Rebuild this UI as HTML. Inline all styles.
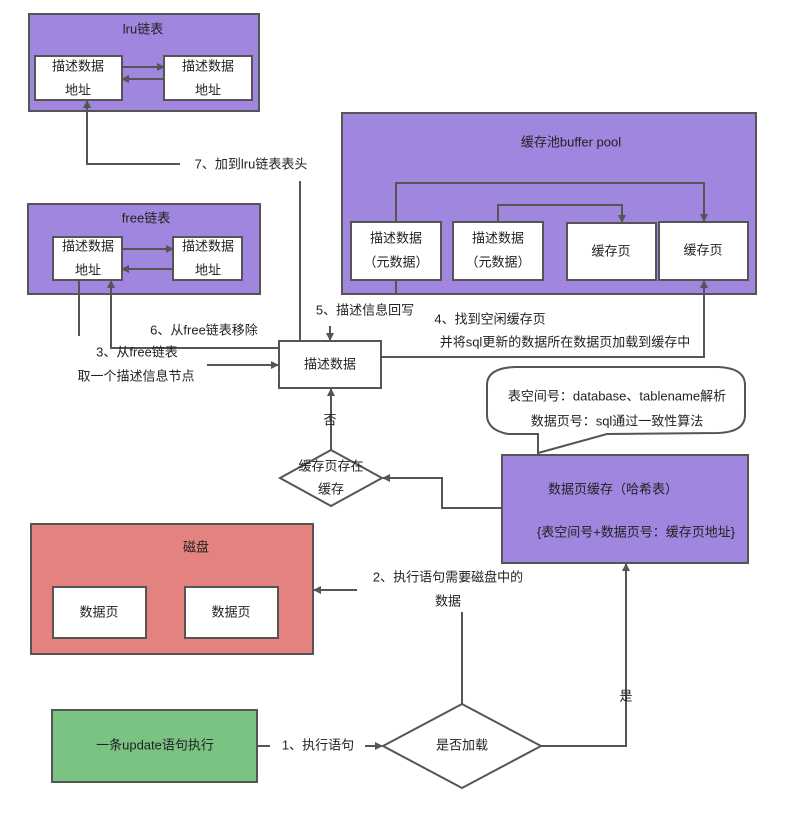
<!DOCTYPE html>
<html><head><meta charset="utf-8"><style>
body{margin:0;background:#fff}
svg text{font-family:"Liberation Sans","Noto Sans CJK SC",sans-serif;font-size:13px;fill:#222;text-anchor:middle;dominant-baseline:middle}
</style></head><body>
<svg width="787" height="824" xmlns="http://www.w3.org/2000/svg">
<defs><marker id="a" markerWidth="8" markerHeight="8" refX="7" refY="4" orient="auto" markerUnits="userSpaceOnUse"><path d="M0,0 L8,4 L0,8 z" fill="#555"/></marker></defs>
<g stroke="#555" stroke-width="2">
<rect x="29" y="14" width="230" height="97" fill="#a086df"/>
<rect x="35" y="56" width="87" height="44" fill="#fff"/>
<rect x="164" y="56" width="88" height="44" fill="#fff"/>
<rect x="28" y="204" width="232" height="90" fill="#a086df"/>
<rect x="53" y="237" width="69" height="43" fill="#fff"/>
<rect x="173" y="237" width="69" height="43" fill="#fff"/>
<rect x="342" y="113" width="414" height="181" fill="#a086df"/>
<rect x="351" y="222" width="90" height="58" fill="#fff"/>
<rect x="453" y="222" width="90" height="58" fill="#fff"/>
<rect x="567" y="223" width="89" height="57" fill="#fff"/>
<rect x="659" y="222" width="89" height="58" fill="#fff"/>
<rect x="279" y="341" width="102" height="47" fill="#fff"/>
<rect x="502" y="455" width="246" height="108" fill="#a086df"/>
<rect x="31" y="524" width="282" height="130" fill="#e4827f"/>
<rect x="53" y="587" width="93" height="51" fill="#fff"/>
<rect x="185" y="587" width="93" height="51" fill="#fff"/>
<rect x="52" y="710" width="205" height="72" fill="#7bc383"/>
<path d="M280,478 L331,450 L382,478 L331,506 Z" fill="#fff"/>
<path d="M383,746 L462,704 L541,746 L462,788 Z" fill="#fff"/>
<path d="M538,453 L538,434 L508,434 Q487,430 487,415 L487,385 Q487,368 515,367 L718,367 Q745,368 745,385 L745,415 Q745,432 718,433 L607,434 Z" fill="#fff"/>
<g fill="none">
<path d="M122,67 L164,67" marker-end="url(#a)"/>
<path d="M164,79 L122,79" marker-end="url(#a)"/>
<path d="M122,249 L173,249" marker-end="url(#a)"/>
<path d="M173,269 L122,269" marker-end="url(#a)"/>
<path d="M180,164 L87,164 L87,101" marker-end="url(#a)"/>
<path d="M300,181 L300,341"/>
<path d="M79,280 L79,336"/>
<path d="M279,348 L111,348 L111,281" marker-end="url(#a)"/>
<path d="M207,365 L278,365" marker-end="url(#a)"/>
<path d="M330,326 L330,340" marker-end="url(#a)"/>
<path d="M396,222 L396,183 L704,183 L704,221" marker-end="url(#a)"/>
<path d="M498,222 L498,205 L622,205 L622,222" marker-end="url(#a)"/>
<path d="M396,280 L396,294"/>
<path d="M381,357 L704,357 L704,281" marker-end="url(#a)"/>
<path d="M502,508 L442,508 L442,478 L383,478" marker-end="url(#a)"/>
<path d="M331,450 L331,389" marker-end="url(#a)"/>
<path d="M357,590 L314,590" marker-end="url(#a)"/>
<path d="M462,612 L462,704"/>
<path d="M257,746 L270,746"/>
<path d="M365,746 L382,746" marker-end="url(#a)"/>
<path d="M541,746 L626,746 L626,564" marker-end="url(#a)"/>
</g></g>
<text x="143" y="30">lru链表</text>
<text x="78" y="67">描述数据</text><text x="78" y="91">地址</text>
<text x="208" y="67">描述数据</text><text x="208" y="91">地址</text>
<text x="251" y="165">7、加到lru链表表头</text>
<text x="146" y="219">free链表</text>
<text x="88" y="247">描述数据</text><text x="88" y="271">地址</text>
<text x="208" y="247">描述数据</text><text x="208" y="271">地址</text>
<text x="204" y="331">6、从free链表移除</text>
<text x="137" y="353">3、从free链表</text>
<text x="136" y="377">取一个描述信息节点</text>
<text x="330" y="365">描述数据</text>
<text x="365" y="311">5、描述信息回写</text>
<text x="571" y="143">缓存池buffer pool</text>
<text x="396" y="239">描述数据</text><text x="396" y="263">（元数据）</text>
<text x="498" y="239">描述数据</text><text x="498" y="263">（元数据）</text>
<text x="611" y="252">缓存页</text>
<text x="703" y="251">缓存页</text>
<text x="490" y="320">4、找到空闲缓存页</text>
<text x="565" y="343">并将sql更新的数据所在数据页加载到缓存中</text>
<text x="617" y="397">表空间号：database、tablename解析</text>
<text x="617" y="422">数据页号：sql通过一致性算法</text>
<text x="613" y="490">数据页缓存（哈希表）</text>
<text x="636" y="533">{表空间号+数据页号：缓存页地址}</text>
<text x="330" y="421">否</text>
<text x="331" y="467">缓存页存在</text>
<text x="331" y="490">缓存</text>
<text x="196" y="548">磁盘</text>
<text x="99" y="613">数据页</text>
<text x="231" y="613">数据页</text>
<text x="448" y="578">2、执行语句需要磁盘中的</text>
<text x="448" y="602">数据</text>
<text x="155" y="746">一条update语句执行</text>
<text x="318" y="746">1、执行语句</text>
<text x="462" y="746">是否加载</text>
<text x="626" y="697">是</text>
</svg>
</body></html>
